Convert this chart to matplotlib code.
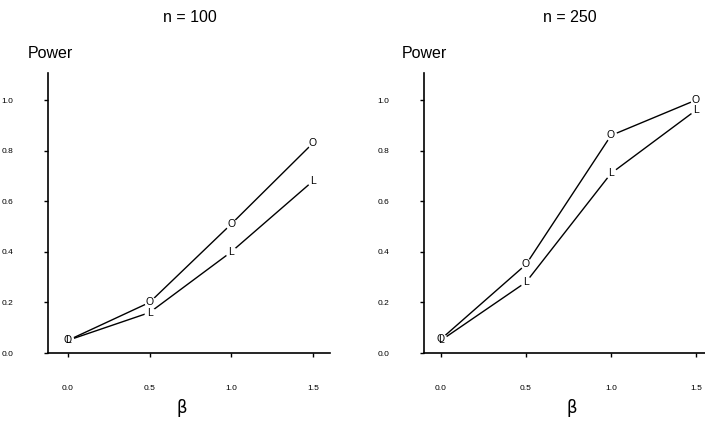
import matplotlib
matplotlib.use("Agg")
import matplotlib.pyplot as plt

beta = [0.0, 0.5, 1.0, 1.5]
o_100 = [0.05, 0.20, 0.51, 0.83]
l_100 = [0.05, 0.16, 0.40, 0.68]
o_250 = [0.055, 0.35, 0.86, 1.00]
l_250 = [0.05, 0.28, 0.71, 0.96]
yticks = [0.0, 0.2, 0.4, 0.6, 0.8, 1.0]
ytick_labels = ["0.0", "0.2", "0.4", "0.6", "0.8", "1.0"]
xtick_labels = ["0.0", "0.5", "1.0", "1.5"]
titles = ["n = 100", "n = 250"]

plt.rcParams['font.family'] = ['Liberation Sans', 'DejaVu Sans']
fig = plt.figure(figsize=(7.05, 4.32), dpi=100)

W, H = 705, 432
panels = [
    dict(px=(48, 330), xlim=(-0.122, 1.604), o=o_100, l=l_100, title=titles[0],
         title_x=190, power_x=28, beta_x=182),
    dict(px=(424, 705), xlim=(-0.10, 1.553), o=o_250, l=l_250, title=titles[1],
         title_x=570, power_x=402, beta_x=572),
]
for p in panels:
    x0, x1 = p['px']
    ax = fig.add_axes([x0 / W, 1 - 353 / H, (x1 - x0) / W, 280 / H])
    ax.set_xlim(*p['xlim'])
    ax.set_ylim(0, 1.107)
    for s in ['top', 'right']:
        ax.spines[s].set_visible(False)
    for s in ['left', 'bottom']:
        ax.spines[s].set_linewidth(1.2)
    for series in (p['o'], p['l']):
        ax.plot(beta, series, color='black', lw=1.0, zorder=2)
        ax.plot(beta, series, ls='none', marker='o', ms=8.5, mfc='white', mec='none', zorder=3)
    for series, letter in [(p['o'], 'O'), (p['l'], 'L')]:
        for xv, yv in zip(beta, series):
            ax.text(xv, yv, letter, ha='center', va='center', fontsize=7.5,
                    color='black', zorder=4)
    ax.set_yticks(yticks)
    ax.set_yticklabels(ytick_labels)
    ax.set_xticks(beta)
    ax.set_xticklabels(xtick_labels)
    ax.tick_params(axis='y', length=3, width=1, pad=22, labelsize=6)
    ax.tick_params(axis='x', length=3, width=1, pad=20, labelsize=6)
    fig.text(p['title_x'] / W, 1 - 18 / H, p['title'], ha='center', va='center', fontsize=11.5)
    fig.text(p['power_x'] / W, 1 - 53 / H, 'Power', ha='left', va='center', fontsize=11.5)
    fig.text(p['beta_x'] / W, 1 - 408 / H, 'β', ha='center', va='center', fontsize=12,
             family=['DejaVu Sans'])

fig.savefig('out.png', dpi=100)
